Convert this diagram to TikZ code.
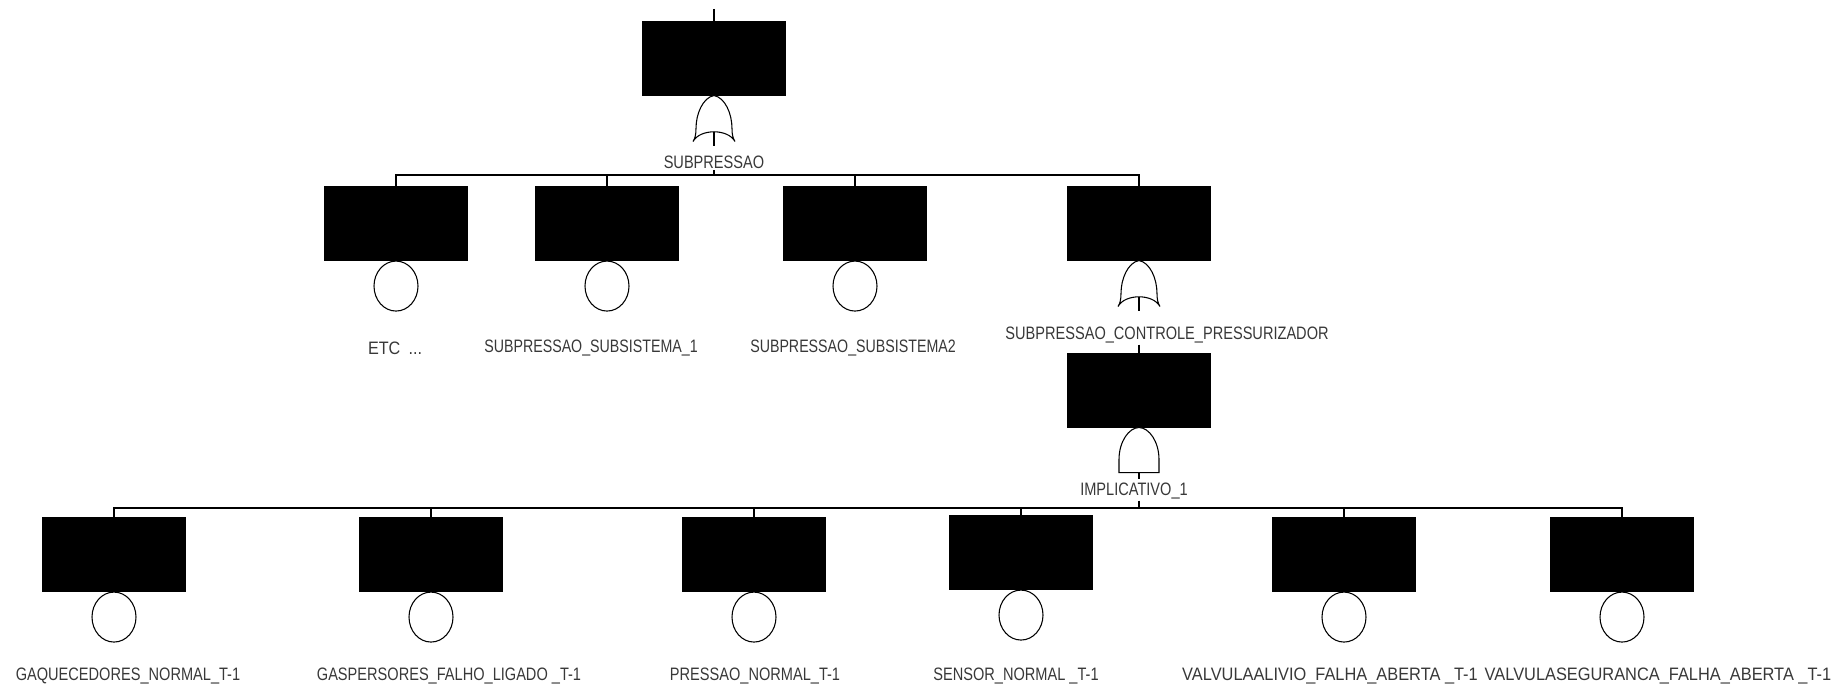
\documentclass[tikz,border=0pt]{standalone}
\usepackage{fontspec}
\setmainfont{Liberation Sans}
\usetikzlibrary{shapes.geometric}
\newcommand\narrowtxt[2][0.81]{\scalebox{#1}[1]{#2}}
\begin{document}
\begin{tikzpicture}[x=0.75pt,y=-0.75pt,
  evbox/.style={draw=black,fill=black,minimum width=107pt,minimum height=55.5pt,inner sep=0pt,anchor=north},
  basic/.style={ellipse,draw=black,line width=0.8pt,fill=white,minimum width=33pt,minimum height=37.5pt,inner sep=0pt,anchor=north},
  lbl/.style={text=black!78,font=\fontsize{13.5}{16}\selectfont,inner sep=1pt},
  conn/.style={line width=1.1pt},
  orgate/.pic={
    \draw[line width=0.8pt,fill=white] (0,0) .. controls (11,2) and (18,18) .. (18,33)
      .. controls (18,39) and (19,43) .. (21,46) .. controls (14,33) and (-14,33) .. (-21,46)
      .. controls (-19,43) and (-18,39) .. (-18,33) .. controls (-18,18) and (-11,2) .. (0,0);
    \draw[line width=0.8pt] (0,36) -- (0,50);
    \coordinate (-out) at (0,50);
  },
  andgate/.pic={
    \draw[line width=0.8pt,fill=white] (-20,45) -- (-20,32) .. controls (-20,14) and (-10,0) .. (0,0)
      .. controls (10,0) and (20,14) .. (20,32) -- (20,45) -- cycle;
    \draw[line width=0.8pt] (0,45) -- (0,51);
    \coordinate (-out) at (0,51);
  }]
\useasboundingbox (0,0) rectangle (1843,699);
% bus coordinates
\coordinate (topin) at (714,9);
\coordinate (bus2) at (714,175);
\coordinate (bus3) at (1139,508);
% top event
\node[evbox] (top) at (714,21) {};
\draw[conn] (topin) -- (top.north);
\pic (g0) at (top.south) {orgate};
\node[lbl] (l0) at (714,162) {\narrowtxt{SUBPRESSAO}};
\draw[conn] (l0.south) -- (l0.south |- bus2);
% second row
\node[evbox] (r1) at (396,186) {};
\node[evbox] (r2) at (607,186) {};
\node[evbox] (r3) at (855,186) {};
\node[evbox] (r4) at (1139,186) {};
\draw[conn] (r1.north) -- (r1.north |- bus2) -- (r4.north |- bus2) -- (r4.north);
\draw[conn] (r2.north) -- (r2.north |- bus2);
\draw[conn] (r3.north) -- (r3.north |- bus2);
\node[basic] (c1) at (r1.south) {};
\node[basic] (c2) at (r2.south) {};
\node[basic] (c3) at (r3.south) {};
\pic (g4) at (r4.south) {orgate};
\node[lbl] (l1) at (395,348) {\narrowtxt[0.9]{ETC\hspace{0.5em}...}};
\node[lbl] (l2) at (591,348) {\narrowtxt[0.79]{SUBPRESSAO\_SUBSISTEMA\_1}};
\node[lbl] (l3) at (853,348) {\narrowtxt[0.79]{SUBPRESSAO\_SUBSISTEMA2}};
\node[lbl] (l4) at (1167,335) {\narrowtxt{SUBPRESSAO\_CONTROLE\_PRESSURIZADOR}};
% intermediate event
\node[evbox] (m1) at (1139,353) {};
\draw[conn] (m1.north |- l4.south) -- (m1.north);
\pic (g5) at (m1.south) {andgate};
\node[lbl] (l5) at (1134,491) {\narrowtxt{IMPLICATIVO\_1}};
\draw[conn] (l5.south -| bus3) -- (bus3);
% bottom row
\node[evbox] (b1) at (114,517) {};
\node[evbox] (b2) at (431,517) {};
\node[evbox] (b3) at (754,517) {};
\node[evbox] (b4) at (1021,515) {};
\node[evbox] (b5) at (1344,517) {};
\node[evbox] (b6) at (1622,517) {};
\draw[conn] (b1.north) -- (b1.north |- bus3) -- (b6.north |- bus3) -- (b6.north);
\foreach \b in {b2,b3,b4,b5} {\draw[conn] (\b.north) -- (\b.north |- bus3);}
\node[basic] (e1) at (b1.south) {};
\node[basic] (e2) at (b2.south) {};
\node[basic] (e3) at (b3.south) {};
\node[basic] (e4) at (b4.south) {};
\node[basic] (e5) at (b5.south) {};
\node[basic] (e6) at (b6.south) {};
\node[lbl] (t1) at (128,676) {\narrowtxt{GAQUECEDORES\_NORMAL\_T-1}};
\node[lbl] (t2) at (449,676) {\narrowtxt{GASPERSORES\_FALHO\_LIGADO \_T-1}};
\node[lbl] (t3) at (755,676) {\narrowtxt{PRESSAO\_NORMAL\_T-1}};
\node[lbl] (t4) at (1016,676) {\narrowtxt{SENSOR\_NORMAL \_T-1}};
\node[lbl] (t5) at (1330,676) {\narrowtxt[0.91]{VALVULAALIVIO\_FALHA\_ABERTA \_T-1}};
\node[lbl] (t6) at (1658,676) {\narrowtxt[0.91]{VALVULASEGURANCA\_FALHA\_ABERTA \_T-1}};
\end{tikzpicture}
\end{document}
